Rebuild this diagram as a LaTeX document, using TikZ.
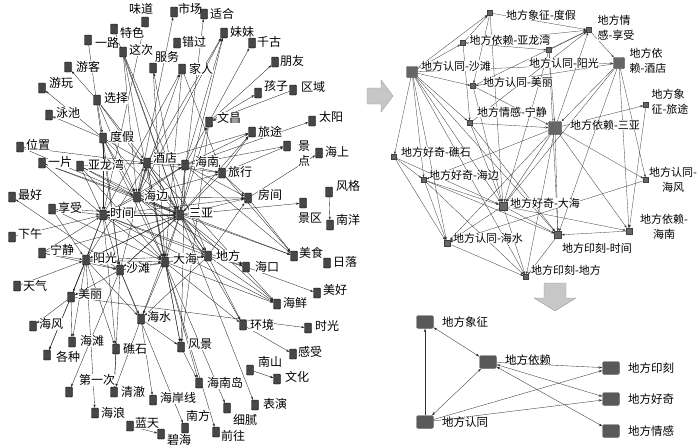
\documentclass[tikz,border=0pt]{standalone}
\usepackage{fontspec}
\newfontfamily\cjk{Noto Sans CJK SC}
\usetikzlibrary{arrows.meta}
\pgfdeclarelayer{bg}
\pgfsetlayers{bg,main}
\tikzset{
 sq/.style={draw=black, fill=black!72, rounded corners=1pt, minimum width=7pt, minimum height=10pt, inner sep=0pt},
 lab/.style={font=\cjk\fontsize{12}{15}\selectfont, fill=white, inner sep=0.3pt, align=center},
 edge/.style={draw=black!85, line width=0.35pt, -{Stealth[length=3.2pt,width=2.2pt]}},
 rsq/.style={draw=black!75, fill=black!60, minimum size=5pt, inner sep=0pt},
 rbig/.style={rsq, minimum size=11pt, rounded corners=1pt},
 rmid/.style={rsq, minimum size=8pt},
 rlab/.style={font=\cjk\fontsize{11}{15}\selectfont, fill=white, inner sep=0.3pt, align=left},
 redge/.style={draw=black!80, line width=0.3pt, -{Stealth[length=3pt,width=2pt]}},
 bsq/.style={draw=black!60, fill=black!65, rounded corners=2pt, minimum width=17pt, minimum height=13pt, inner sep=0pt},
 blab/.style={font=\cjk\fontsize{11.5}{13}\selectfont},
 bedge/.style={draw=black!80, line width=0.35pt},
 garrow/.style={fill=black!22, draw=black!40, line width=0.4pt}
}
\newcommand\mknode[6]{\node[sq] (#1) at (#2,#3) {}; \node[lab] (#1-t) at (#4,#5) {#6};}
\newcommand\rknode[8]{\node[#7] (#1) at (#2,#3) {}; \node[rlab,#8] (#1-t) at (#4,#5) {#6};}
\begin{document}
\begin{tikzpicture}[x=1pt,y=-1pt]
\useasboundingbox (0,0) rectangle (700,447);
% ---------------- left graph ----------------
\mknode{wd}{145}{22}{141}{9}{味道}
\mknode{sc}{174}{12}{190}{9}{市场}
\mknode{sh}{204}{14}{222}{14}{适合}
\mknode{ts}{114}{29}{132}{33}{特色}
\mknode{mm}{224}{33}{242}{32}{妹妹}
\mknode{yl}{88}{40}{107}{43}{一路}
\mknode{zc}{123}{52}{141}{50}{这次}
\mknode{cg}{177}{43}{194}{42}{错过}
\mknode{qg}{252}{43}{269}{42}{千古}
\mknode{fw}{153}{68}{167}{57}{服务}
\mknode{jr}{182}{69}{201}{69}{家人}
\mknode{yk}{68}{67}{88}{67}{游客}
\mknode{py}{275}{62}{292}{61}{朋友}
\mknode{yw}{42}{88}{61}{83}{游玩}
\mknode{hz}{258}{93}{276}{86}{孩子}
\mknode{qy}{293}{90}{313}{87}{区域}
\mknode{xz}{97}{100}{116}{98}{选择}
\mknode{yc}{49}{115}{68}{113}{泳池}
\mknode{wc}{209}{122}{229}{118}{文昌}
\mknode{ty}{312}{121}{331}{117}{太阳}
\mknode{dj}{103}{138}{122}{137}{度假}
\mknode{lt}{252}{132}{270}{132}{旅途}
\mknode{wz}{20}{147}{38}{145}{位置}
\mknode{jd}{287}{146}{304}{154}{景\\点}
\mknode{hs}{319}{153}{337}{152}{海上}
\mknode{yp}{42}{163}{60}{162}{一片}
\mknode{ylw}{80}{166}{106}{165}{亚龙湾}
\mknode{jdian}{147}{163}{165}{158}{酒店}
\mknode{hn}{185}{165}{207}{162}{海南}
\mknode{lx}{222}{173}{240}{172}{旅行}
\mknode{zh}{12}{197}{30}{195}{最好}
\mknode{hb}{137}{197}{156}{196}{海边}
\mknode{fj}{248}{198}{270}{195}{房间}
\mknode{fg}{329}{192}{348}{186}{风格}
\mknode{xs}{52}{209}{70}{208}{享受}
\mknode{sj}{103}{215}{122}{213}{时间}
\mknode{sy}{180}{215}{201}{213}{三亚}
\mknode{jq}{303}{203}{310}{218}{景区}
\mknode{nyang}{330}{225}{348}{220}{南洋}
\mknode{xw}{12}{237}{30}{234}{下午}
\mknode{nj}{42}{253}{62}{250}{宁静}
\mknode{yg}{86}{260}{105}{258}{阳光}
\mknode{st}{120}{270}{138}{268}{沙滩}
\mknode{dh}{165}{262}{185}{259}{大海}
\mknode{df}{208}{256}{228}{256}{地方}
\mknode{ms}{294}{256}{311}{253}{美食}
\mknode{rl}{327}{263}{345}{262}{日落}
\mknode{hk}{246}{267}{267}{267}{海口}
\mknode{tq}{17}{286}{35}{286}{天气}
\mknode{mh}{317}{293}{335}{290}{美好}
\mknode{ml}{71}{297}{90}{294}{美丽}
\mknode{hx}{277}{304}{295}{303}{海鲜}
\mknode{hsh}{141}{319}{159}{317}{海水}
\mknode{hf}{33}{326}{51}{324}{海风}
\mknode{hj}{243}{325}{262}{325}{环境}
\mknode{sg}{308}{328}{327}{326}{时光}
\mknode{ht}{72}{342}{92}{341}{海滩}
\mknode{fjing}{181}{347}{200}{344}{风景}
\mknode{js}{116}{349}{135}{349}{礁石}
\mknode{gs}{293}{354}{310}{352}{感受}
\mknode{gz}{47}{355}{68}{357}{各种}
\mknode{ns}{250}{370}{270}{362}{南山}
\mknode{wh}{277}{379}{297}{377}{文化}
\mknode{hnd}{199}{383}{225}{383}{海南岛}
\mknode{dyc}{69}{392}{97}{380}{第一次}
\mknode{qc}{114}{392}{133}{392}{清澈}
\mknode{hax}{153}{400}{178}{398}{海岸线}
\mknode{by}{255}{405}{275}{404}{表演}
\mknode{xn}{227}{408}{245}{420}{细腻}
\mknode{hl}{95}{413}{113}{413}{海浪}
\mknode{nf}{185}{428}{198}{416}{南方}
\mknode{lant}{130}{426}{147}{423}{蓝天}
\mknode{bh}{161}{434}{179}{440}{碧海}
\mknode{qw}{216}{432}{233}{436}{前往}
\begin{pgfonlayer}{bg}
\foreach \a/\b in {xz/yk, xz/dj, dj/yw, dj/yc, xz/sy, xz/jdian, xz/hb, yl/st, zc/sy, zc/dh, zc/df, zc/hb, ts/sy, wd/sj, fw/dh, sy/fw,
 dj/sy, dj/jdian, dj/hb, dj/sj, dj/st, dj/dh, ylw/jdian, ylw/sy, ylw/sj, ylw/hb, ylw/dh, wz/jdian, wz/sy, yp/hb, yp/sj, yp/sy,
 xs/sj, xs/sy, xs/yg, xs/dh, st/zh, xw/sj, nj/yg, nj/sj, nj/sy, nj/st, tq/yg, yg/sy, st/sy, yg/jdian, st/jdian, sj/sy, hb/sy,
 jdian/sy, jdian/hb, jdian/hn, jdian/lx, jdian/dh, jdian/df, hb/sj, hb/dh, hb/df, hb/hn, hb/lx, sj/yg, sj/st, sj/dh, sj/df, sj/hn,
 yg/st, yg/dh, yg/df, st/dh, st/df, dh/df, sy/dh, sy/df, sy/st, sy/yg, hn/lx, hn/sy, lx/sy, sy/mm, jdian/mm, hb/mm, hn/mm,
 hb/sc, sy/sh, sj/jr, hb/jr, jr/lx, wc/qg, wc/py, wc/hz, qy/wc, sy/wc, hn/wc, sy/lt, hn/lt, hn/ty, hn/jd, lx/jd, fj/hs, sy/fj,
 hn/fj, lx/fj, df/fj, sy/jq, fg/nyang, fj/ms, sy/ms, hn/ms, lx/ms, df/hk, hb/hk, hk/mh, dh/hx, df/hx, sj/hx, dh/hj, df/hj, hj/gs,
 ml/sg, yg/ml, st/ml, sj/ml, ml/hf, ml/ht, ml/gz, yg/ht, yg/gz, st/hsh, dh/hsh, yg/hsh, sy/hsh, hsh/hax, hsh/qc, js/qc, st/qc,
 hsh/fjing, dh/fjing, fjing/hnd, dh/hnd, dh/xn, dh/qw, sy/by, ns/wh, st/nf, yg/hl, lant/bh, sj/js, yg/js, st/dyc, hb/ms, sj/hk, jdian/hx,
 wc/fjing, hn/fjing, jr/dh, sy/hx, sy/hk, df/hsh, hb/fj, sj/fj, jdian/lt, lx/lt, sy/hj, jdian/fjing}
 \draw[edge] (\a) -- (\b);
\end{pgfonlayer}
% ---------------- arrows ----------------
\draw[garrow] (367,88) -- (381,88) -- (381,80) -- (393,96) -- (381,112) -- (381,104) -- (367,104) -- cycle;
\draw[garrow] (544,283) -- (566,283) -- (566,298) -- (576,298) -- (555,311) -- (534,298) -- (544,298) -- cycle;
% ---------------- right top graph ----------------
\rknode{a1}{490}{13}{541}{15}{地方象征-度假}{rsq}{}
\rknode{a2}{589}{30}{616}{28}{地方情\\感-享受}{rsq}{}
\rknode{a3}{463}{43}{510}{40}{地方依赖-亚龙湾}{rsq}{}
\rknode{a4}{549}{50}{564}{63}{地方认同-阳光}{rsq}{}
\rknode{a5}{619}{63}{648}{61}{地方依\\赖-酒店}{rbig}{}
\rknode{a6}{412}{72}{456}{66}{地方认同-沙滩}{rbig}{}
\rknode{a7}{473}{86}{518}{82}{地方认同-美丽}{rsq}{}
\rknode{a8}{646}{105}{670}{102}{地方象\\征-旅途}{rsq}{}
\rknode{a9}{470}{123}{512}{112}{地方情感-宁静}{rsq}{}
\rknode{a10}{555}{128}{605}{125}{地方依赖-三亚}{rbig,minimum size=13pt}{}
\rknode{a11}{394}{157}{436}{152}{地方好奇-礁石}{rsq}{}
\rknode{a12}{424}{180}{464}{175}{地方好奇-海边}{rsq}{}
\rknode{a13}{646}{180}{673}{180}{地方认同-\\海风}{rsq}{align=center}
\rknode{a14}{503}{206}{545}{203}{地方好奇-大海}{rmid}{}
\rknode{a15}{629}{231}{664}{227}{地方依赖-\\海南}{rsq,minimum size=6pt}{align=center}
\rknode{a16}{558}{235}{597}{248}{地方印刻-时间}{rsq,minimum size=7pt}{}
\rknode{a17}{447}{243}{488}{238}{地方认同-海水}{rsq,minimum size=6pt}{}
\rknode{a18}{526}{277}{566}{270}{地方印刻-地方}{rsq}{}
\begin{pgfonlayer}{bg}
\foreach \a/\b in {a6/a1, a6/a3, a3/a1, a1/a2, a1/a14, a3/a2, a3/a4, a6/a5, a4/a2, a7/a2, a9/a2, a10/a2, a2/a5, a5/a10,
 a5/a14, a5/a16, a5/a15, a5/a13, a5/a7, a10/a8, a8/a15, a10/a13, a10/a15, a10/a16, a10/a14, a10/a18, a10/a12, a10/a17,
 a6/a11, a6/a12, a6/a17, a6/a18, a6/a14, a6/a16, a6/a9, a6/a7, a11/a12, a11/a17, a11/a14, a12/a17, a12/a14, a12/a16,
 a12/a18, a14/a16, a14/a15, a14/a18, a14/a17, a17/a18, a16/a18, a15/a16, a13/a17, a7/a10, a7/a14, a9/a14, a9/a10,
 a9/a16, a4/a10, a4/a14, a4/a16, a3/a9, a1/a7}
 \draw[redge] (\a) -- (\b);
\end{pgfonlayer}
% ---------------- bottom right graph ----------------
\node[bsq] (bxz) at (425,322) {}; \node[blab] (bxz-t) at (465,322) {地方象征};
\node[bsq] (byl) at (488,362) {}; \node[blab] (byl-t) at (528,360) {地方依赖};
\node[bsq] (byk) at (611,368) {}; \node[blab] (byk-t) at (651,368) {地方印刻};
\node[bsq] (bhq) at (611,399) {}; \node[blab] (bhq-t) at (651,399) {地方好奇};
\node[bsq] (bqg) at (611,431) {}; \node[blab] (bqg-t) at (651,431) {地方情感};
\node[bsq] (brt) at (425,422) {}; \node[blab] (brt-t) at (465,422) {地方认同};
\draw[bedge,-{Stealth[length=3.5pt,width=2.4pt]}] (brt) -- (bxz);
\draw[bedge,{Stealth[length=3.5pt,width=2.4pt]}-{Stealth[length=3.5pt,width=2.4pt]}] (byl) -- (bxz);
\draw[bedge,{Stealth[length=3.5pt,width=2.4pt]}-{Stealth[length=3.5pt,width=2.4pt]}] (byl) -- (brt);
\draw[bedge,-{Stealth[length=3.5pt,width=2.4pt]}] (byl) -- (byk);
\draw[bedge,{Stealth[length=3.5pt,width=2.4pt]}-{Stealth[length=3.5pt,width=2.4pt]}] (byl) -- (bhq);
\draw[bedge,{Stealth[length=3.5pt,width=2.4pt]}-{Stealth[length=3.5pt,width=2.4pt]}] (byl) -- (bqg);
\draw[bedge,-{Stealth[length=3.5pt,width=2.4pt]}] (brt) -- (byk);
\draw[bedge,-{Stealth[length=3.5pt,width=2.4pt]}] (brt) -- (bhq);
\end{tikzpicture}
\end{document}
